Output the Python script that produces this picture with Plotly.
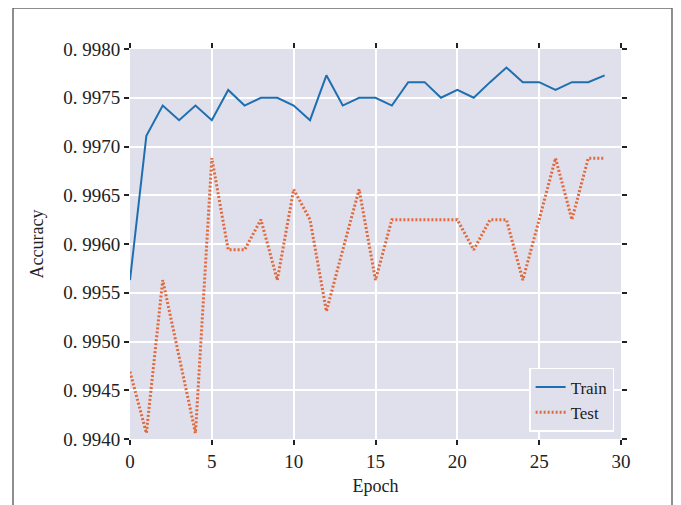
import plotly.graph_objects as go

epochs = list(range(30))
train_acc = [0.99563, 0.99711, 0.99742, 0.99727, 0.99742, 0.99727, 0.99758, 0.99742, 0.99750, 0.99750,
             0.99742, 0.99727, 0.99773, 0.99742, 0.99750, 0.99750, 0.99742, 0.99766, 0.99766, 0.99750,
             0.99758, 0.99750, 0.99766, 0.99781, 0.99766, 0.99766, 0.99758, 0.99766, 0.99766, 0.99773]
test_acc = [0.99469, 0.99406, 0.99563, 0.99484, 0.99406, 0.99688, 0.99594, 0.99594, 0.99625, 0.99563,
            0.99656, 0.99625, 0.99531, 0.99594, 0.99656, 0.99563, 0.99625, 0.99625, 0.99625, 0.99625,
            0.99625, 0.99594, 0.99625, 0.99625, 0.99563, 0.99625, 0.99688, 0.99625, 0.99688, 0.99688]
y_ticks = [0.9940, 0.9945, 0.9950, 0.9955, 0.9960, 0.9965, 0.9970, 0.9975, 0.9980]
y_tick_labels = ["0. 9940", "0. 9945", "0. 9950", "0. 9955", "0. 9960", "0. 9965", "0. 9970", "0. 9975", "0. 9980"]
x_ticks = [0, 5, 10, 15, 20, 25, 30]

OFF = 8  # page body margin
W, H = 681, 505
L, T = 130 - OFF, 49 - OFF
pw, ph = 491, 390
R, B = W - L - pw, H - T - ph

fig = go.Figure()
fig.add_trace(go.Scatter(x=epochs, y=train_acc, mode="lines", name="Train",
                         line=dict(color="#1f6fb0", width=2)))
fig.add_trace(go.Scatter(x=epochs, y=test_acc, mode="lines", name="Test",
                         line=dict(color="#e0683a", width=3, dash="2px,2px")))

def px2paper_x(px):
    return (px - OFF - L) / pw

def px2paper_y(py):
    return (T + ph - (py - OFF)) / ph

fig.add_shape(type="path", xref="paper", yref="paper",
              path=f"M {px2paper_x(13)} {px2paper_y(530)} L {px2paper_x(13)} {px2paper_y(8)} "
                   f"L {px2paper_x(672)} {px2paper_y(8)} L {px2paper_x(672)} {px2paper_y(530)}",
              line=dict(color="#6a6a6a", width=1.5), layer="above")

font = "Liberation Serif, Times New Roman, serif"
fig.update_layout(
    width=W, height=H,
    margin=dict(l=L, r=R, t=T, b=B),
    paper_bgcolor="white",
    plot_bgcolor="#dfe0ec",
    font=dict(family=font, color="#222222", size=19),
    showlegend=True,
    legend=dict(x=0.986, y=0.018, xanchor="right", yanchor="bottom",
                bgcolor="#dfe0ec", bordercolor="white", borderwidth=1.5,
                font=dict(family=font, size=17, color="#222222"),
                tracegroupgap=0, itemwidth=30),
    xaxis=dict(range=[0, 30], tickvals=x_ticks, showgrid=True, gridcolor="white", gridwidth=1.5,
               zeroline=False, showline=False, ticks="outside", ticklen=5, tickwidth=1.5,
               tickcolor="#222222", mirror="ticks",
               title=dict(text="Epoch", font=dict(size=18), standoff=8)),
    yaxis=dict(range=[0.9940, 0.9980], tickvals=y_ticks, ticktext=y_tick_labels,
               showgrid=True, gridcolor="white", gridwidth=1.5,
               zeroline=False, showline=False, ticks="outside", ticklen=5, tickwidth=1.5,
               tickcolor="#222222", mirror="ticks",
               title=dict(text="Accuracy", font=dict(size=18), standoff=14)),
)

fig.write_html("out.html")
